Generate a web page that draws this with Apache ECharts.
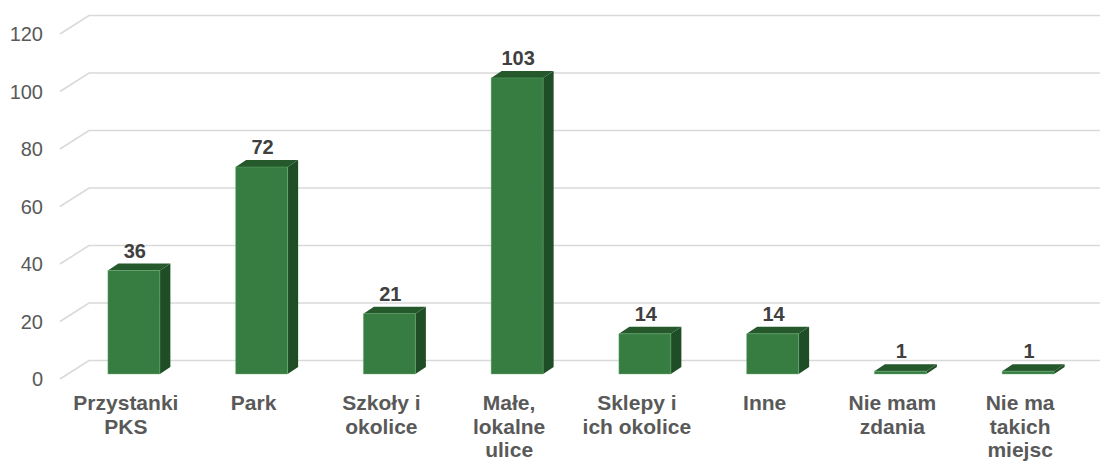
<!DOCTYPE html>
<html><head><meta charset="utf-8">
<script src="https://cdn.jsdelivr.net/npm/echarts@6/dist/echarts.min.js"></script>
<style>html,body{margin:0;padding:0;background:#fff}#c{width:1100px;height:464px}</style>
</head><body><div id="c"></div>
<script>
const categories = ["Przystanki\nPKS","Park","Szkoły i\nokolice","Małe,\nlokalne\nulice","Sklepy i\nich okolice","Inne","Nie mam\nzdania","Nie ma\ntakich\nmiejsc"];
const values = [36,72,21,103,14,14,1,1];
const yTicks = [0,20,40,60,80,100,120];

const FONT = 'Arial, "Liberation Sans", sans-serif';
const DEPTH_X = 29, DEPTH_Y = 18.5;      // floor depth
const BAR_OFF_X = 8, BAR_OFF_Y = 5;      // bar front offset from front plane
const BAR_DX = 10.5, BAR_DY = 7;         // bar depth
const BAR_HALF = 26;
const FRONT = '#377D42', TOP = '#25592C', SIDE = '#1F4D25';

const chart = echarts.init(document.getElementById('c'), null, {renderer:'svg'});
chart.setOption({
  animation:false,
  grid:{left:62,right:16,top:34,bottom:85},
  xAxis:{type:'category',data:categories,
    axisLine:{show:false},axisTick:{show:false},splitLine:{show:false},
    axisLabel:{interval:0,margin:12,color:'#595959',fontSize:21,fontWeight:'bold',fontFamily:FONT,lineHeight:23.5}},
  yAxis:{type:'value',min:0,max:120,interval:20,
    axisLine:{show:false},axisTick:{show:false},splitLine:{show:false},
    axisLabel:{margin:19,color:'#595959',fontSize:20,fontFamily:FONT}},
  series:[
    {type:'custom',silent:true,z:1,
     data:yTicks.map(v=>[0,v]),
     renderItem:function(params,api){
       const cs=params.coordSys;
       const y=api.coord([0,api.value(1)])[1];
       const x0=cs.x-2;
       return {type:'polyline',shape:{points:[[x0,y],[x0+DEPTH_X,y-DEPTH_Y],[cs.x+cs.width+60,y-DEPTH_Y]]},
         style:{stroke:'#d9d9d9',lineWidth:1.5,fill:null}};
     }},
    {type:'custom',z:2,
     data:values.map((v,i)=>[i,v]),
     renderItem:function(params,api){
       const i=api.value(0), v=api.value(1);
       const p0=api.coord([i,0]), p1=api.coord([i,v]);
       const cx=p0[0]+BAR_OFF_X;
       const xl=cx-BAR_HALF, xr=cx+BAR_HALF;
       const yb=p0[1]-BAR_OFF_Y, yt=p1[1]-BAR_OFF_Y;
       return {type:'group',children:[
         {type:'polygon',shape:{points:[[xr,yb],[xr+BAR_DX,yb-BAR_DY],[xr+BAR_DX,yt-BAR_DY],[xr,yt]]},style:{fill:SIDE}},
         {type:'polygon',shape:{points:[[xl,yt],[xr,yt],[xr+BAR_DX,yt-BAR_DY],[xl+BAR_DX,yt-BAR_DY]]},style:{fill:TOP}},
         {type:'rect',shape:{x:xl,y:yt,width:xr-xl,height:yb-yt},style:{fill:FRONT,stroke:'rgba(110,180,120,0.5)',lineWidth:0.8}},
         {type:'text',style:{text:String(v),x:cx+1,y:yt-BAR_DY-3,align:'center',verticalAlign:'bottom',
           font:'bold 20px '+FONT,fill:'#404040'}}
       ]};
     }}
  ]
});
</script></body></html>
